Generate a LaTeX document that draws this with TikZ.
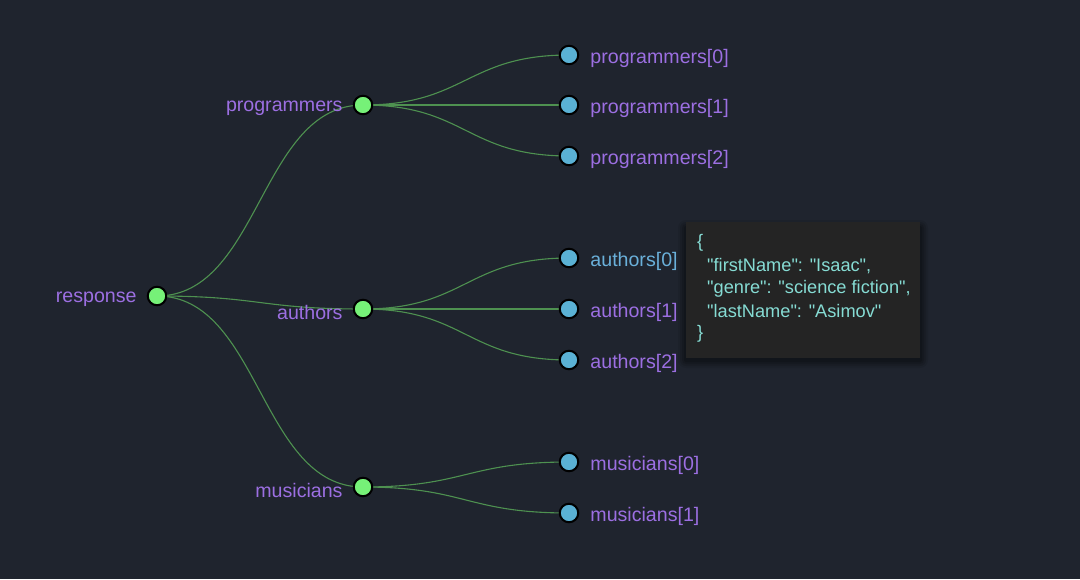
\documentclass[tikz,border=0pt]{standalone}
\usepackage{fontspec}
\setmainfont{Liberation Sans}
\newfontfamily\tipfont{Liberation Sans}
\usetikzlibrary{positioning, calc}
\definecolor{bgdark}{HTML}{1F242E}
\definecolor{nodegreen}{HTML}{76F178}
\definecolor{nodeblue}{HTML}{5AB1D4}
\definecolor{linkgreen}{HTML}{4E9150}
\definecolor{labelpurple}{HTML}{9C6FE2}
\definecolor{labelblue}{HTML}{6AB0DA}
\definecolor{tipgray}{HTML}{242424}
\definecolor{tiptext}{HTML}{86DCD4}
\pgfdeclarelayer{back}
\pgfdeclarelayer{links}
\pgfsetlayers{back,links,main}

\begin{document}
\begin{tikzpicture}[x=1pt,y=-1pt,
  dot/.style={circle, draw=black, line width=2pt, minimum size=18.5pt, inner sep=0pt},
  branch/.style={dot, fill=nodegreen},
  leafdot/.style={dot, fill=nodeblue},
  lbl/.style={text=labelpurple, font=\fontsize{19.6}{22}\selectfont, inner sep=0pt, yshift=-3.5pt},
  tipline/.style={text=tiptext, font=\tipfont\fontsize{18.2}{20}\selectfont, inner sep=0pt, anchor=west},
  link/.style={draw=linkgreen, line width=1.1pt,
    to path={let \p1=(\tikztostart), \p2=(\tikztotarget) in
      (\p1) .. controls ({0.5*\x1+0.5*\x2},\y1) and ({0.5*\x1+0.5*\x2},\y2) .. (\p2)}}]

  % Background
  \begin{pgfonlayer}{back}
    \fill[bgdark] (0,0) rectangle (1080,579);
  \end{pgfonlayer}
  \useasboundingbox (0,0) rectangle (1080,579);

  % Root and branches
  \node[branch] (resp) at (157,296) {};
  \node[branch] (prog) at (363,105) {};
  \node[branch] (auth) at (363,309) {};
  \node[branch] (mus)  at (363,487) {};

  \node[lbl, left=10pt of resp] (resplbl) {response};
  \node[lbl, left=10pt of prog] (proglbl) {programmers};
  \node[lbl, left=10pt of auth] (authlbl) {authors};
  \node[lbl, left=10pt of mus]  (muslbl)  {musicians};

  % Leaves
  \foreach \n/\y/\t in {prog0/55/programmers[0], prog1/105/programmers[1], prog2/156/programmers[2],
                        auth1/309/authors[1], auth2/360/authors[2],
                        mus0/462/musicians[0], mus1/513/musicians[1]} {
    \node[leafdot] (\n) at (569,\y) {};
    \node[lbl, right=11pt of \n] (\n lbl) {\t};
  }
  % hovered leaf
  \node[leafdot] (auth0) at (569,258) {};
  \node[lbl, text=labelblue, right=11pt of auth0] (auth0lbl) {authors[0]};

  % Links
  \begin{pgfonlayer}{links}
    \foreach \a/\b in {resp/prog, resp/auth, resp/mus,
                       prog/prog0, prog/prog1, prog/prog2,
                       auth/auth0, auth/auth1, auth/auth2,
                       mus/mus0, mus/mus1}
      \draw[link] (\a) to (\b);
  \end{pgfonlayer}

  % Tooltip with soft shadow
  \foreach \s/\o in {8/0.08, 6/0.1, 4/0.12, 2/0.15}
    \fill[black, opacity=\o, rounded corners=\s pt] (686-\s,224-\s+4) rectangle (920+\s,358+\s+2);
  \node[fill=tipgray, minimum width=234pt, minimum height=136pt, anchor=north west] (tip) at (686,222) {};
  \node[tipline] (tip0) at (697,243) {\{};
  \node[tipline] (tip1) at (707,266) {"firstName": "Isaac",};
  \node[tipline] (tip2) at (707,289) {"genre": "science fiction",};
  \node[tipline] (tip3) at (707,311) {"lastName": "Asimov"};
  \node[tipline] (tip4) at (697,334) {\}};
\end{tikzpicture}
\end{document}
